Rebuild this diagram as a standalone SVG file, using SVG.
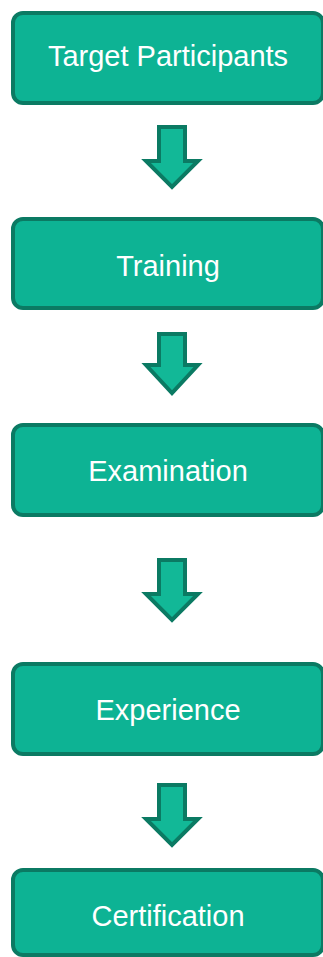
<svg xmlns="http://www.w3.org/2000/svg" width="323" height="957" viewBox="0 0 323 957">
<style>
.box{fill:#0db394;stroke:#0b7a63;stroke-width:4}
.lbl{fill:#ffffff;font-family:"Liberation Sans",Arial,sans-serif;font-size:29px;text-anchor:middle}
.arr{fill:#12b897;stroke:#0b7a63;stroke-width:4;stroke-linejoin:miter}
</style>
<rect width="323" height="957" fill="#ffffff"/>
<g id="connectors">
<path class="arr" d="M159,127 H185 V161 H198 L172,187 L146,161 H159 Z"/>
<path class="arr" d="M159,334 H185 V365 H198 L172,393 L146,365 H159 Z"/>
<path class="arr" d="M159,560 H185 V594 H198 L172,620 L146,594 H159 Z"/>
<path class="arr" d="M159,785 H185 V819 H198 L172,845 L146,819 H159 Z"/>
</g>
<g id="node1">
<rect class="box" x="13" y="13" width="310" height="90" rx="10"/>
<text class="lbl" x="168" y="66">Target Participants</text>
</g>
<g id="node2">
<rect class="box" x="13" y="219" width="310" height="89" rx="10"/>
<text class="lbl" x="168" y="276">Training</text>
</g>
<g id="node3">
<rect class="box" x="13" y="425" width="310" height="90" rx="10"/>
<text class="lbl" x="168" y="481">Examination</text>
</g>
<g id="node4">
<rect class="box" x="13" y="664" width="310" height="90" rx="10"/>
<text class="lbl" x="168" y="720">Experience</text>
</g>
<g id="node5">
<rect class="box" x="13" y="870" width="310" height="85" rx="10"/>
<text class="lbl" x="168" y="926">Certification</text>
</g>
</svg>
